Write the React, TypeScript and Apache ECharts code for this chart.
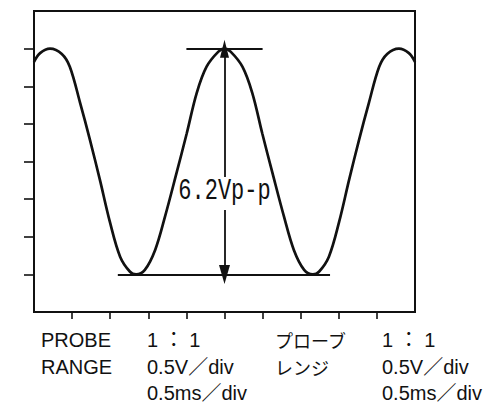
import React, { useEffect, useRef } from "react";
import * as echarts from "echarts";

// Waveform (x in time divisions, y in voltage divisions)
const timeDiv = [
  0.0, 0.16, 0.42, 0.73, 0.94, 1.21, 1.47, 1.73, 1.99, 2.26, 2.52, 2.68, 2.91, 3.18, 3.44, 3.74, 4.01,
  4.27, 4.53, 4.84, 5.0, 5.16, 5.47, 5.73, 5.99, 6.26, 6.56, 6.82, 7.09, 7.32, 7.48, 7.74, 8.01, 8.27,
  8.53, 8.79, 9.06, 9.27, 9.58, 9.84, 10.0,
];
const voltDiv = [
  6.65, 6.88, 7.0, 6.86, 6.52, 5.56, 4.57, 3.51, 2.4, 1.47, 1.07, 1.0, 1.12, 1.65, 2.54, 3.69, 4.75,
  5.82, 6.52, 6.92, 7.0, 6.92, 6.52, 5.82, 4.75, 3.69, 2.54, 1.65, 1.12, 1.0, 1.07, 1.47, 2.4, 3.51,
  4.57, 5.56, 6.52, 6.86, 7.0, 6.88, 6.65,
];

// Axis ticks (divisions)
const xTicks = [1, 2, 3, 4, 5, 6, 7, 8, 9];
const yTicks = [1, 2, 3, 4, 5, 6, 7];

// Annotation (peak-to-peak measurement)
const peakLevel = 7;
const troughLevel = 1;
const peakLineX = [4.0, 6.0];
const troughLineX = [2.2, 7.77];
const arrowX = 5;
const arrowGap = [2.71, 3.59];
const ppLabel = "6.2Vp-p";
const ppLabelY = 3.21;

// Settings text below the screen
const enLabels = ["PROBE", "RANGE"];
const enValues = ["1 ： 1", "0.5V／div", "0.5ms／div"];
const jpLabels = ["プローブ", "レンジ"];
const jpValues = ["1 ： 1", "0.5V／div", "0.5ms／div"];

export default function App() {
  const ref = useRef<HTMLDivElement>(null);
  useEffect(() => {
    if (!ref.current) return;
    const chart = echarts.init(ref.current, undefined, { renderer: "svg" });
    const black = "#111";
    chart.setOption({
      animation: false,
      backgroundColor: "#fff",
      grid: {
        left: 34,
        right: 79,
        top: 11,
        bottom: 93,
        show: true,
        borderColor: black,
        borderWidth: 2,
        containLabel: false,
      },
      xAxis: {
        type: "value",
        min: 0,
        max: 10,
        interval: 1,
        axisLine: { show: true, lineStyle: { color: black, width: 2 } },
        axisTick: { show: true, length: 7, customValues: xTicks, lineStyle: { color: black, width: 1.6 } },
        axisLabel: { show: false },
        splitLine: { show: false },
      },
      yAxis: {
        type: "value",
        min: 0,
        max: 8,
        interval: 1,
        axisLine: { show: true, lineStyle: { color: black, width: 2 } },
        axisTick: { show: true, length: 10, customValues: yTicks, lineStyle: { color: black, width: 1.6 } },
        axisLabel: { show: false },
        splitLine: { show: false },
      },
      series: [
        {
          type: "line",
          data: timeDiv.map((x, i) => [x, voltDiv[i]]),
          smooth: 0.35,
          showSymbol: false,
          lineStyle: { color: black, width: 2.7 },
          silent: true,
          markLine: {
            silent: true,
            symbol: "none",
            label: { show: false },
            lineStyle: { color: black, width: 1.8, type: "solid" },
            data: [
              [{ coord: [peakLineX[0], peakLevel] }, { coord: [peakLineX[1], peakLevel] }],
              [{ coord: [troughLineX[0], troughLevel] }, { coord: [troughLineX[1], troughLevel] }],
              [
                { coord: [arrowX, arrowGap[1]], symbol: "none" },
                { coord: [arrowX, peakLevel], symbol: "triangle", symbolSize: [9, 18] },
              ],
              [
                { coord: [arrowX, arrowGap[0]], symbol: "none" },
                { coord: [arrowX, troughLevel], symbol: "triangle", symbolSize: [11, 19] },
              ],
            ],
          },
        },
      ],
    });

    const [cx, cy] = chart.convertToPixel({ gridIndex: 0 }, [arrowX, ppLabelY]) as number[];
    const sans = "'Liberation Sans', Arial, 'Noto Sans CJK JP', sans-serif";
    const jp = "'Noto Sans CJK JP', 'Liberation Sans', sans-serif";
    const rows = [340, 367, 393];
    const graphic: any[] = [
      {
        type: "text",
        x: cx,
        y: cy,
        scaleY: 1.3,
        style: {
          text: ppLabel,
          fill: black,
          font: "22px 'Liberation Mono', 'Courier New', monospace",
          align: "center",
          verticalAlign: "middle",
        },
      },
    ];
    enLabels.forEach((t, i) =>
      graphic.push({ type: "text", x: 41, y: rows[i], style: { text: t, fill: black, font: `20px ${sans}`, verticalAlign: "middle" } })
    );
    enValues.forEach((t, i) =>
      graphic.push({ type: "text", x: 147, y: rows[i], style: { text: t, fill: black, font: `20px ${sans}`, verticalAlign: "middle" } })
    );
    jpLabels.forEach((t, i) =>
      graphic.push({ type: "text", x: 275, y: rows[i], style: { text: t, fill: black, font: `18px ${jp}`, verticalAlign: "middle" } })
    );
    jpValues.forEach((t, i) =>
      graphic.push({ type: "text", x: 382, y: rows[i], style: { text: t, fill: black, font: `20px ${sans}`, verticalAlign: "middle" } })
    );
    chart.setOption({ graphic });

    return () => chart.dispose();
  }, []);
  return <div ref={ref} style={{ position: "fixed", left: 0, top: 0, width: 494, height: 405 }} />;
}
